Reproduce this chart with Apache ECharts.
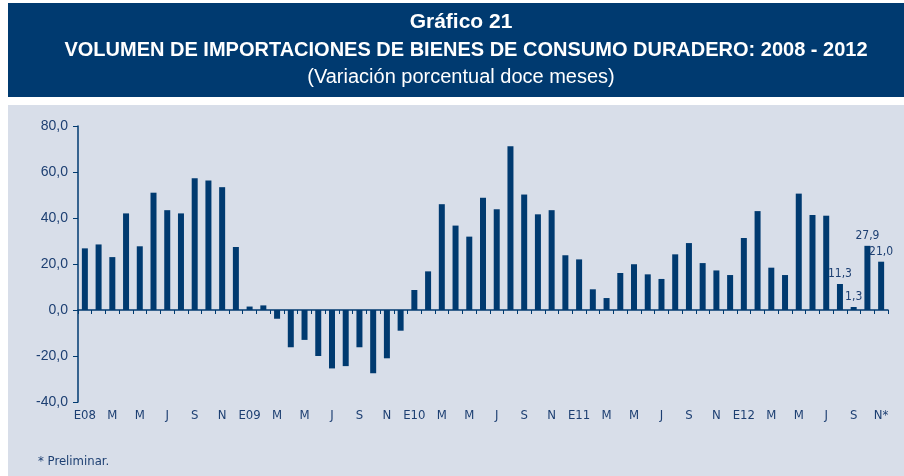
<!DOCTYPE html>
<html>
<head>
<meta charset="utf-8">
<style>
  html, body { margin: 0; padding: 0; background: #ffffff; }
  #main { width: 904px; height: 476px; }
</style>
</head>
<body>
<div id="main"></div>
<script src="https://cdn.jsdelivr.net/npm/echarts@6/dist/echarts.min.js"></script>
<script type="text/javascript">
    // etiquetas de meses (una por barra, se muestra una de cada dos)
    var months = [
        'E08','F','M','A','M','J','J','A','S','O','N','D',
        'E09','F','M','A','M','J','J','A','S','O','N','D',
        'E10','F','M','A','M','J','J','A','S','O','N','D',
        'E11','F','M','A','M','J','J','A','S','O','N','D',
        'E12','F','M','A','M','J','J','A','S','O','N*'
    ];

    // variación porcentual doce meses
    var values = [
        26.8, 28.5, 23.0, 42.0, 27.7, 51.0, 43.4, 42.0, 57.3, 56.3, 53.4, 27.4,
        1.5, 2.0, -3.8, -16.2, -13.0, -20.0, -25.4, -24.4, -16.2, -27.5, -21.0, -9.0,
        8.7, 16.8, 46.0, 36.7, 31.9, 48.8, 43.8, 71.2, 50.2, 41.6, 43.4, 23.8,
        22.0, 9.0, 5.2, 16.1, 19.9, 15.5, 13.5, 24.2, 29.1, 20.4, 17.2, 15.2,
        31.3, 43.0, 18.4, 15.2, 50.6, 41.3, 41.0, 11.3, 1.3, 27.9, 21.0
    ];

    // solo se rotulan los últimos cuatro meses
    var labelFrom = 55;

    var titleLines = [
        'Gráfico 21',
        'VOLUMEN DE IMPORTACIONES DE BIENES DE CONSUMO DURADERO: 2008 - 2012',
        '(Variación porcentual doce meses)'
    ];
    var note = '* Preliminar.';

    var navy = '#003a70';
    var textBlue = '#1d3f72';
    var narrow = "'Liberation Sans Narrow', 'DejaVu Sans Condensed', sans-serif";

    function fmt(v) {
        return v.toFixed(1).replace('.', ',');
    }

    var barData = values.map(function (v, i) {
        var item = { value: v };
        if (i >= labelFrom) {
            item.label = { show: true };
        }
        return item;
    });

    function titleText(txt, x, y, font) {
        return {
            type: 'text', x: x, y: y,
            style: { text: txt, fill: '#ffffff', font: font, align: 'center', verticalAlign: 'middle' }
        };
    }

    var myChart = echarts.init(document.getElementById('main'));

    var option = {
        backgroundColor: '#ffffff',
        animation: false,
        graphic: [
            { type: 'rect', left: 8, top: 3, shape: { width: 896, height: 94 }, style: { fill: navy }, z: -10 },
            { type: 'rect', left: 8, top: 105, shape: { width: 896, height: 371 }, style: { fill: '#d8dee9' }, z: -10 },
            titleText(titleLines[0], 461, 22, "bold 21px 'Liberation Sans'"),
            titleText(titleLines[1], 466, 50, "bold 20px 'Liberation Sans'"),
            titleText(titleLines[2], 461, 77, "20px 'Liberation Sans'"),
            { type: 'text', left: 38, top: 455, style: { text: note, fill: textBlue, font: '13px ' + narrow } }
        ],
        grid: { left: 78, right: 16, top: 126, bottom: 74, containLabel: false },
        xAxis: [
            {
                type: 'category',
                data: months,
                axisLine: { onZero: true, lineStyle: { color: navy, width: 1.5 } },
                axisTick: { show: true, interval: 0, length: 4, lineStyle: { color: navy } },
                axisLabel: { show: false }
            },
            {
                type: 'category',
                data: months,
                position: 'bottom',
                axisLine: { show: false, onZero: false },
                axisTick: { show: false },
                axisLabel: {
                    interval: 1,
                    margin: 7,
                    color: textBlue,
                    fontSize: 13,
                    fontFamily: narrow
                }
            }
        ],
        yAxis: {
            type: 'value',
            min: -40,
            max: 80,
            interval: 20,
            splitLine: { show: false },
            axisLine: { show: true, lineStyle: { color: navy, width: 1.5 } },
            axisTick: { show: true, length: 5, lineStyle: { color: navy } },
            axisLabel: {
                color: textBlue,
                fontSize: 14,
                margin: 10,
                fontFamily: 'Liberation Sans',
                formatter: fmt
            }
        },
        series: [{
            type: 'bar',
            xAxisIndex: 0,
            data: barData,
            barWidth: 6,
            itemStyle: { color: navy },
            label: {
                show: false,
                position: 'top',
                distance: 4,
                color: textBlue,
                fontSize: 12,
                fontFamily: narrow,
                formatter: function (p) { return fmt(p.value); }
            }
        }]
    };

    myChart.setOption(option);
</script>
</body>
</html>
